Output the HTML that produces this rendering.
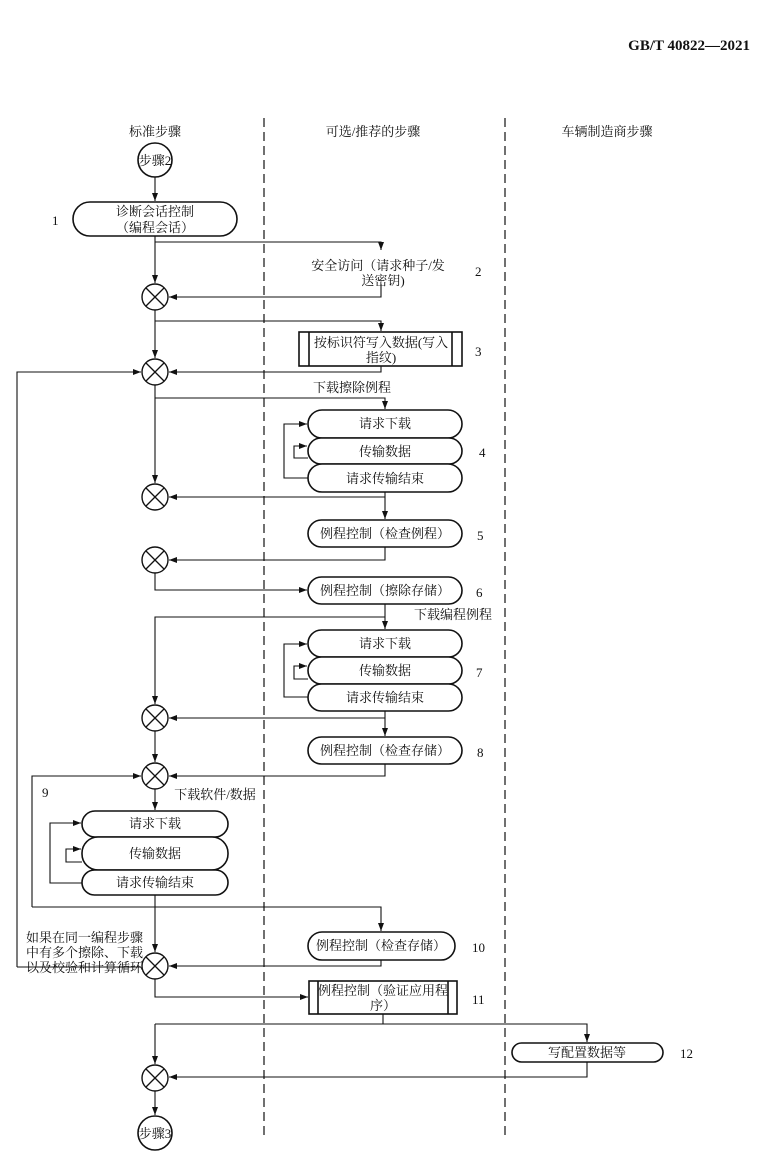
<!DOCTYPE html>
<html><head><meta charset="utf-8"><style>
html,body{margin:0;padding:0;background:#fff;}
svg{display:block;}
text{font-family:"Liberation Serif","Noto Serif CJK SC","Noto Sans CJK SC",serif;font-size:13px;fill:#111;}
</style></head><body>
<svg width="761" height="1173" viewBox="0 0 761 1173" xmlns="http://www.w3.org/2000/svg">
<defs>
<marker id="a" markerWidth="8" markerHeight="6" refX="8" refY="3" orient="auto" markerUnits="userSpaceOnUse"><path d="M0,0 L8,3 L0,6 z" fill="#111"/></marker>
<g id="x"><circle r="13" fill="#fff" stroke="#111" stroke-width="1.4"/><path d="M-9,-9 L9,9 M9,-9 L-9,9" stroke="#111" stroke-width="1.3"/></g>
</defs>
<text x="750" y="50" text-anchor="end" style="font-size:15px;font-weight:bold">GB/T  40822—2021</text>
<g stroke="#111" stroke-width="1.2" stroke-dasharray="9,5"><line x1="264" y1="118" x2="264" y2="1135"/><line x1="505" y1="118" x2="505" y2="1135"/></g>
<text x="155" y="136" text-anchor="middle">标准步骤</text>
<text x="373" y="136" text-anchor="middle">可选/推荐的步骤</text>
<text x="607" y="136" text-anchor="middle">车辆制造商步骤</text>
<g fill="none" stroke="#111" stroke-width="1.1">
<path d="M155,177 V201" marker-end="url(#a)"/>
<path d="M155,236 V283" marker-end="url(#a)"/>
<path d="M155,242 H381 V250" marker-end="url(#a)"/>
<path d="M381,284 V297 H169" marker-end="url(#a)"/>
<path d="M155,310 V358" marker-end="url(#a)"/>
<path d="M155,321 H381 V331" marker-end="url(#a)"/>
<path d="M381,366 V372 H169" marker-end="url(#a)"/>
<path d="M17,967 V372 H141" marker-end="url(#a)"/>
<path d="M17,967 H141"/>
<path d="M155,385 V483" marker-end="url(#a)"/>
<path d="M155,398 H385 V409" marker-end="url(#a)"/>
<path d="M308,478 H284 V424 H307" marker-end="url(#a)"/>
<path d="M308,458 H294 V446 H307" marker-end="url(#a)"/>
<path d="M385,492 V519" marker-end="url(#a)"/>
<path d="M385,497 H169" marker-end="url(#a)"/>
<path d="M385,547 V560 H169" marker-end="url(#a)"/>
<path d="M155,573 V590 H307" marker-end="url(#a)"/>
<path d="M385,604 V629" marker-end="url(#a)"/>
<path d="M385,617 H155 V704" marker-end="url(#a)"/>
<path d="M308,697 H284 V644 H307" marker-end="url(#a)"/>
<path d="M308,679 H294 V666 H307" marker-end="url(#a)"/>
<path d="M385,711 V736" marker-end="url(#a)"/>
<path d="M385,718 H169" marker-end="url(#a)"/>
<path d="M155,731 V762" marker-end="url(#a)"/>
<path d="M385,764 V776 H169" marker-end="url(#a)"/>
<path d="M32,907 V776 H141" marker-end="url(#a)"/>
<path d="M155,789 V810" marker-end="url(#a)"/>
<path d="M82,883 H50 V823 H81" marker-end="url(#a)"/>
<path d="M82,862 H66 V849 H81" marker-end="url(#a)"/>
<path d="M155,895 V952" marker-end="url(#a)"/>
<path d="M32,907 H381 V931" marker-end="url(#a)"/>
<path d="M381,960 V966 H169" marker-end="url(#a)"/>
<path d="M155,979 V997 H308" marker-end="url(#a)"/>
<path d="M383,1014 V1024"/>
<path d="M155,1024 H587 V1042" marker-end="url(#a)"/>
<path d="M155,1024 V1064" marker-end="url(#a)"/>
<path d="M587,1062 V1077 H169" marker-end="url(#a)"/>
<path d="M155,1091 V1115" marker-end="url(#a)"/>
</g>
<g fill="#fff" stroke="#111" stroke-width="1.6">
<circle cx="155" cy="160" r="17"/>
<circle cx="155" cy="1133" r="17"/>
<rect x="73" y="202" width="164" height="34" rx="17"/>
<rect x="299" y="332" width="163" height="34"/>
<rect x="308" y="410" width="154" height="28" rx="14"/>
<rect x="308" y="438" width="154" height="26" rx="13"/>
<rect x="308" y="464" width="154" height="28" rx="14"/>
<rect x="308" y="520" width="154" height="27" rx="13.5"/>
<rect x="308" y="577" width="154" height="27" rx="13.5"/>
<rect x="308" y="630" width="154" height="27" rx="13.5"/>
<rect x="308" y="657" width="154" height="27" rx="13.5"/>
<rect x="308" y="684" width="154" height="27" rx="13.5"/>
<rect x="308" y="737" width="154" height="27" rx="13.5"/>
<rect x="82" y="811" width="146" height="26" rx="13"/>
<rect x="82" y="837" width="146" height="33" rx="16"/>
<rect x="82" y="870" width="146" height="25" rx="12.5"/>
<rect x="308" y="932" width="147" height="28" rx="14"/>
<rect x="309" y="981" width="148" height="33"/>
<rect x="512" y="1043" width="151" height="19" rx="9.5"/>
</g>
<g stroke="#111" stroke-width="1.6"><path d="M309,332 V366 M452,332 V366 M318,981 V1014 M448,981 V1014"/></g>
<use href="#x" x="155" y="297"/><use href="#x" x="155" y="372"/><use href="#x" x="155" y="497"/>
<use href="#x" x="155" y="560"/><use href="#x" x="155" y="718"/><use href="#x" x="155" y="776"/>
<use href="#x" x="155" y="966"/><use href="#x" x="155" y="1078"/>
<g text-anchor="middle">
<text x="155" y="165">步骤2</text>
<text x="155" y="1138">步骤3</text>
<text x="155" y="216">诊断会话控制</text>
<text x="155" y="232">（编程会话）</text>
<text x="378" y="270">安全访问（请求种子/发</text>
<text x="383" y="285">送密钥)</text>
<text x="381" y="347">按标识符写入数据(写入</text>
<text x="381" y="362">指纹)</text>
<text x="352" y="392">下载擦除例程</text>
<text x="385" y="428">请求下载</text>
<text x="385" y="456">传输数据</text>
<text x="385" y="483">请求传输结束</text>
<text x="385" y="538">例程控制（检查例程）</text>
<text x="385" y="595">例程控制（擦除存储）</text>
<text x="453" y="619">下载编程例程</text>
<text x="385" y="648">请求下载</text>
<text x="385" y="675">传输数据</text>
<text x="385" y="702">请求传输结束</text>
<text x="385" y="755">例程控制（检查存储）</text>
<text x="215" y="799">下载软件/数据</text>
<text x="155" y="828">请求下载</text>
<text x="155" y="858">传输数据</text>
<text x="155" y="887">请求传输结束</text>
<text x="381" y="950">例程控制（检查存储）</text>
<text x="383" y="995">例程控制（验证应用程</text>
<text x="383" y="1010">序）</text>
<text x="587" y="1057">写配置数据等</text>
</g>
<text x="26" y="942">如果在同一编程步骤</text>
<text x="26" y="957">中有多个擦除、下载</text>
<text x="26" y="972">以及校验和计算循环</text>
<g>
<text x="52" y="225">1</text><text x="475" y="276">2</text><text x="475" y="356">3</text>
<text x="479" y="457">4</text><text x="477" y="540">5</text><text x="476" y="597">6</text>
<text x="476" y="677">7</text><text x="477" y="757">8</text><text x="42" y="797">9</text>
<text x="472" y="952">10</text><text x="472" y="1004">11</text><text x="680" y="1058">12</text>
</g>
</svg>
</body></html>
